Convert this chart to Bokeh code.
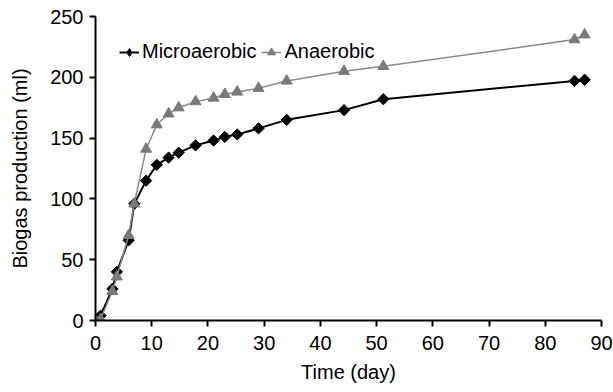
from bokeh.plotting import figure
from bokeh.models import FixedTicker, Range1d, Legend, LegendItem
from bokeh.embed import file_html
from bokeh.resources import INLINE
import math

days = [0, 0.9, 3, 3.8, 5.9, 6.9, 9, 10.9, 13, 14.8, 17.8, 21, 23, 25.2, 29, 34, 44.2, 51.2, 85.2, 87]
micro = [0, 4, 26, 40, 66, 96, 115, 128, 134, 138, 144, 148, 151, 153, 158, 165, 173, 182, 197, 198]
anaer = [0, 1, 24, 36, 70, 96, 141, 161, 170, 175, 180, 183, 186, 188, 191, 197, 205, 209, 231, 235]
x_ticks = [0, 10, 20, 30, 40, 50, 60, 70, 80, 90]
y_ticks = [0, 50, 100, 150, 200, 250]

FONT = "Liberation Sans"
FS = "20px"

p = figure(width=613, height=392, output_backend="svg", toolbar_location=None,
           x_range=Range1d(0, 90), y_range=Range1d(0, 250),
           min_border_left=95, min_border_right=12, min_border_top=16, min_border_bottom=72)
p.outline_line_color = None
p.xgrid.visible = False
p.ygrid.visible = False

l1 = p.line(days, micro, line_color="black", line_width=2)
m1 = p.scatter(days, micro, marker="square", angle=math.pi / 4, size=8,
               fill_color="black", line_color="black")
# off-range point, used only for the legend swatch
leg1 = p.scatter([-100], [-100], marker="diamond", size=14, fill_color="black", line_color="black")
l2 = p.line(days, anaer, line_color="#8a8a8a", line_width=1.5)
m2 = p.scatter(days, anaer, marker="triangle", size=11,
               fill_color="#7a7a7a", line_color="#7a7a7a")

legend = Legend(items=[LegendItem(label="Microaerobic", renderers=[l1, leg1]),
                       LegendItem(label="Anaerobic", renderers=[l2, m2])],
                location="top_left", orientation="horizontal")
legend.border_line_color = None
legend.background_fill_alpha = 0
legend.padding = 0
legend.margin = 24
legend.spacing = 5
legend.glyph_width = 20
legend.glyph_height = 20
legend.label_standoff = 3
legend.label_text_font = FONT
legend.label_text_font_size = FS
legend.label_text_color = "black"
p.add_layout(legend)

for ax in (p.xaxis[0], p.yaxis[0]):
    ax.axis_line_width = 2
    ax.axis_line_color = "black"
    ax.major_tick_line_width = 2
    ax.major_tick_line_color = "black"
    ax.major_tick_in = 0
    ax.major_tick_out = 6
    ax.minor_tick_line_color = None
    ax.major_label_text_font = FONT
    ax.major_label_text_font_size = FS
    ax.major_label_text_color = "black"
    ax.axis_label_text_font = FONT
    ax.axis_label_text_font_size = FS
    ax.axis_label_text_font_style = "normal"
    ax.axis_label_text_color = "black"

p.xaxis[0].ticker = FixedTicker(ticks=x_ticks)
p.yaxis[0].ticker = FixedTicker(ticks=y_ticks)
p.xaxis[0].axis_label = "Time (day)"
p.yaxis[0].axis_label = "Biogas production (ml)"
p.xaxis[0].major_label_standoff = 9
p.xaxis[0].axis_label_standoff = 8
p.yaxis[0].major_label_standoff = 6
p.yaxis[0].axis_label_standoff = 16

open("out.html", "w").write(file_html(p, INLINE))
